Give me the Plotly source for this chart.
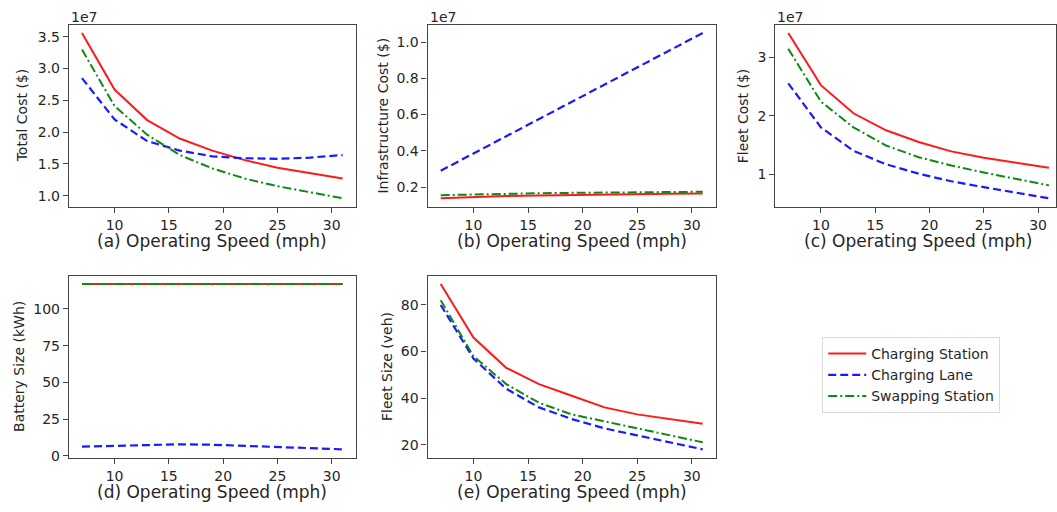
import plotly.graph_objects as go

# Operating speed (mph) evaluated for each charging strategy
speed = [7, 10, 13, 16, 19, 22, 25, 28, 31]
speed_ticks = [10, 15, 20, 25, 30]

strategies = ["Charging Station", "Charging Lane", "Swapping Station"]

# (a) Total cost, in units of 1e7 $
total_station = [3.56, 2.67, 2.19, 1.90, 1.71, 1.56, 1.44, 1.35, 1.27]
total_lane = [2.85, 2.20, 1.86, 1.71, 1.62, 1.59, 1.58, 1.60, 1.64]
total_swap = [3.30, 2.41, 1.96, 1.64, 1.43, 1.27, 1.15, 1.05, 0.96]

# (b) Infrastructure cost, in units of 1e7 $
infra_station = [0.138, 0.145, 0.150, 0.154, 0.157, 0.159, 0.161, 0.163, 0.165]
infra_lane = [0.29, 0.385, 0.48, 0.575, 0.67, 0.765, 0.86, 0.955, 1.05]
infra_swap = [0.155, 0.160, 0.164, 0.166, 0.168, 0.170, 0.171, 0.172, 0.174]

# (c) Fleet cost, in units of 1e7 $
fleet_cost_station = [3.41, 2.52, 2.04, 1.75, 1.55, 1.39, 1.28, 1.19, 1.11]
fleet_cost_lane = [2.55, 1.80, 1.40, 1.17, 1.01, 0.88, 0.78, 0.68, 0.59]
fleet_cost_swap = [3.14, 2.24, 1.80, 1.49, 1.29, 1.15, 1.03, 0.92, 0.81]

# (d) Battery size (kWh)
battery_station = [117, 117, 117, 117, 117, 117, 117, 117, 117]
battery_lane = [6.3, 7.0, 7.6, 7.9, 7.6, 7.0, 6.1, 5.3, 4.5]
battery_swap = [117, 117, 117, 117, 117, 117, 117, 117, 117]

# (e) Fleet size (vehicles)
fleet_station = [89, 66, 53, 46, 41, 36, 33, 31, 29]
fleet_lane = [80, 57, 44, 36, 31, 27, 24, 21, 18]
fleet_swap = [82, 58, 46, 38, 33, 30, 27, 24, 21]

y_titles = ["Total Cost ($)", "Infrastructure Cost ($)", "Fleet Cost ($)",
            "Battery Size (kWh)", "Fleet Size (veh)"]
x_titles = ["(a) Operating Speed (mph)", "(b) Operating Speed (mph)",
            "(c) Operating Speed (mph)", "(d) Operating Speed (mph)",
            "(e) Operating Speed (mph)"]
y_ticks = [
    [1.0, 1.5, 2.0, 2.5, 3.0, 3.5],
    [0.2, 0.4, 0.6, 0.8, 1.0],
    [1, 2, 3],
    [0, 25, 50, 75, 100],
    [20, 40, 60, 80],
]
y_tick_text = [
    ["1.0", "1.5", "2.0", "2.5", "3.0", "3.5"],
    ["0.2", "0.4", "0.6", "0.8", "1.0"],
    ["1", "2", "3"],
    ["0", "25", "50", "75", "100"],
    ["20", "40", "60", "80"],
]
scaled_panels = [True, True, True, False, False]  # panels carrying the 1e7 multiplier

series = [
    (total_station, total_lane, total_swap),
    (infra_station, infra_lane, infra_swap),
    (fleet_cost_station, fleet_cost_lane, fleet_cost_swap),
    (battery_station, battery_lane, battery_swap),
    (fleet_station, fleet_lane, fleet_swap),
]

W, H = 1057, 512
FONT = "DejaVu Sans"
TEXT = "#262626"
FRAME = "#444444"

styles = [
    dict(color="#ff1a1a", dash="solid", width=2),
    dict(color="#1a1aff", dash="8px,4px", width=2.2),
    dict(color="#118811", dash="9px,3px,2px,3px", width=2),
]

# Subplot boxes in pixels: (left, right, top, bottom)
boxes = [
    (69, 356, 25, 209),
    (428, 716.5, 25, 209),
    (776, 1057, 25, 209),
    (69, 356, 279, 463),
    (428, 716.5, 279, 463),
]
x_ranges = [[5.8, 32.2], [5.8, 32.2], [5.8, 31.65], [5.8, 32.2], [5.8, 32.2]]
y_title_x = [21.7, 383.3, 743.3, 18.3, 386.7]

fig = go.Figure()
layout = {}
annotations = []

for i in range(5):
    n = i + 1
    xa = "x" if n == 1 else f"x{n}"
    ya = "y" if n == 1 else f"y{n}"
    for s, vals in enumerate(series[i]):
        fig.add_trace(go.Scatter(
            x=speed, y=vals, mode="lines", name=strategies[s],
            line=styles[s], xaxis=xa, yaxis=ya,
            showlegend=(i == 0), legendrank=s + 1,
        ))

    allv = [v for vals in series[i] for v in vals]
    lo, hi = min(allv), max(allv)
    pad = (hi - lo) * 0.05
    left, right, top, bottom = boxes[i]

    axis_common = dict(
        showline=True, mirror=True, linecolor=FRAME, linewidth=1.3,
        ticks="outside", ticklen=5, tickwidth=1.2, tickcolor=FRAME,
        showgrid=False, zeroline=False,
        tickfont=dict(family=FONT, size=14, color=TEXT),
    )
    layout["xaxis" if n == 1 else f"xaxis{n}"] = dict(
        axis_common, domain=[left / W, right / W], range=x_ranges[i],
        anchor=ya, tickmode="array", tickvals=speed_ticks,
    )
    layout["yaxis" if n == 1 else f"yaxis{n}"] = dict(
        axis_common, domain=[1 - bottom / H, 1 - top / H],
        range=[lo - pad, hi + pad], anchor=xa,
        tickmode="array", tickvals=y_ticks[i], ticktext=y_tick_text[i],
    )

    # x-axis title below each subplot
    annotations.append(dict(
        text=x_titles[i], xref=f"{xa} domain", yref=f"{ya} domain",
        x=0.5 if n != 3 else (0.5 * (356 - 69)) / (1057 - 776),
        y=0, yshift=-34, xanchor="center", yanchor="middle",
        showarrow=False, font=dict(family=FONT, size=17, color=TEXT),
    ))
    # y-axis title, rotated
    annotations.append(dict(
        text=y_titles[i], xref="paper", yref=f"{ya} domain",
        x=y_title_x[i] / W, y=0.5, xanchor="center", yanchor="middle",
        textangle=-90, showarrow=False,
        font=dict(family=FONT, size=14, color=TEXT),
    ))
    if scaled_panels[i]:
        annotations.append(dict(
            text="1e7", xref=f"{xa} domain", yref=f"{ya} domain",
            x=0, y=1, yshift=8, xanchor="left", yanchor="middle",
            showarrow=False, font=dict(family=FONT, size=14, color=TEXT),
        ))

fig.update_layout(
    **layout,
    annotations=annotations,
    width=W, height=H,
    margin=dict(l=0, r=0, t=0, b=0),
    paper_bgcolor="white", plot_bgcolor="white",
    font=dict(family=FONT, size=14, color=TEXT),
    legend=dict(
        x=823 / W, y=1 - 341 / H, xanchor="left", yanchor="top",
        bgcolor="white", bordercolor="#d9d9d9", borderwidth=1,
        font=dict(family=FONT, size=14, color=TEXT),
        itemwidth=38, tracegroupgap=0,
    ),
)

fig.write_html("out.html")
